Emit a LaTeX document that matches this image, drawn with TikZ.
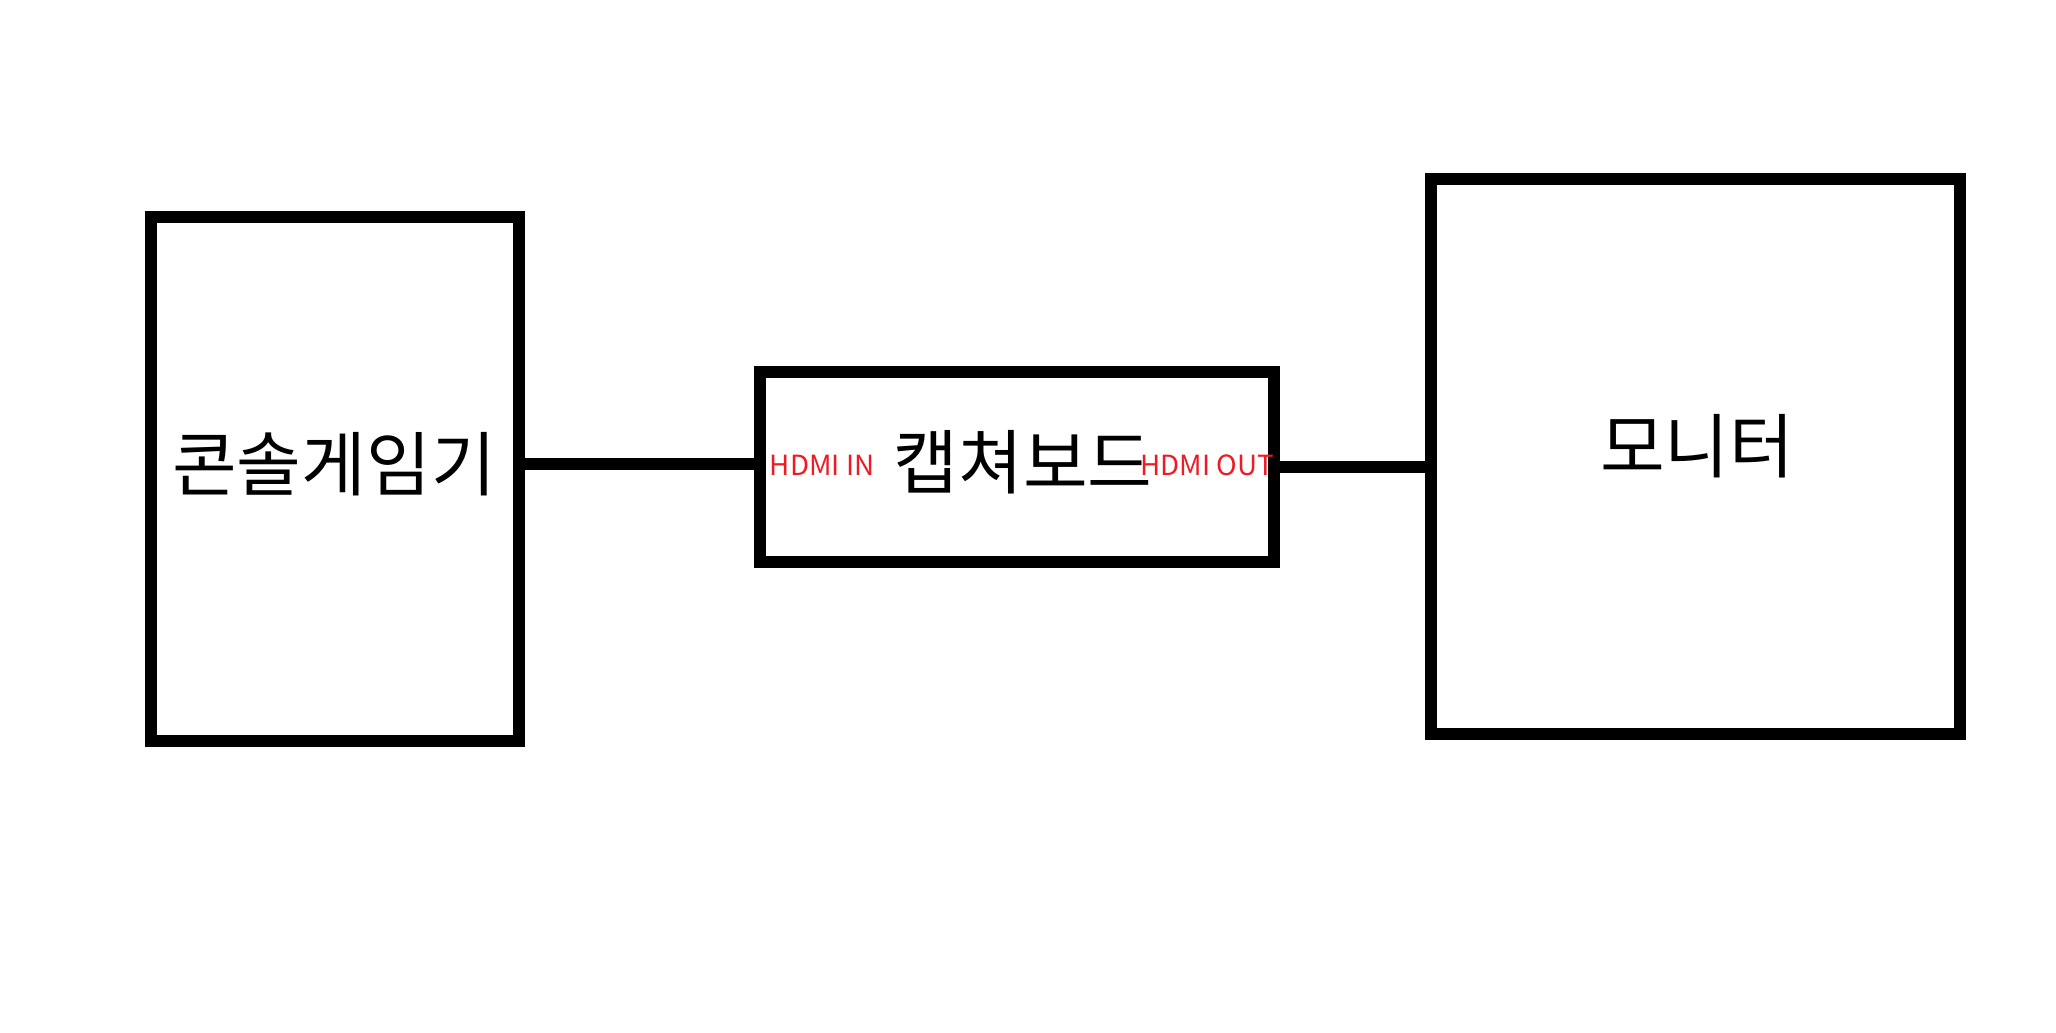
\documentclass[tikz,border=0pt]{standalone}
\usepackage{fontspec}
\setmainfont{Noto Sans CJK KR}
\usetikzlibrary{positioning}
\definecolor{paintred}{RGB}{237,28,36}
\tikzset{
	devbox/.style={draw=black, line width=0.115cm, rectangle, inner sep=0pt},
	devtext/.style={font=\fontsize{20pt}{23pt}\selectfont, inner sep=0pt},
	porttext/.style={font=\fontsize{7.9pt}{9pt}\selectfont, text=paintred, inner sep=0pt},
	cable/.style={line width=0.115cm}
}
\begin{document}
\begin{tikzpicture}
		\useasboundingbox (0,0) rectangle (20.56,10.32);
		
		% boxes
		\node[devbox, minimum width=3.68cm, minimum height=5.24cm] (console) at (3.35,5.53) {};
		\node[devbox, minimum width=5.14cm, minimum height=1.90cm] (capture) at (10.17,5.65) {};
		\node[devbox, minimum width=5.29cm, minimum height=5.55cm] (monitor) at (16.955,5.755) {};
		
		% names
		\node[devtext] (consolename) at (3.34,5.68) {콘솔게임기};
		\node[devtext] (capturename) at (10.23,5.70) {캡쳐보드};
		\node[devtext] (monitorname) at (16.97,5.86) {모니터};
		
		% ports
		\node[porttext] (hdmiin) at (8.22,5.67) {HDMI IN};
		\node[porttext] (hdmiout) at (12.07,5.67) {HDMI OUT};
		
		% cables
		\draw[cable] ([yshift=0.03cm]capture.west -| console.east) -- ([yshift=0.03cm]capture.west);
		\draw[cable] (capture.east) -- (capture.east -| monitor.west);
	\end{tikzpicture}
\end{document}
